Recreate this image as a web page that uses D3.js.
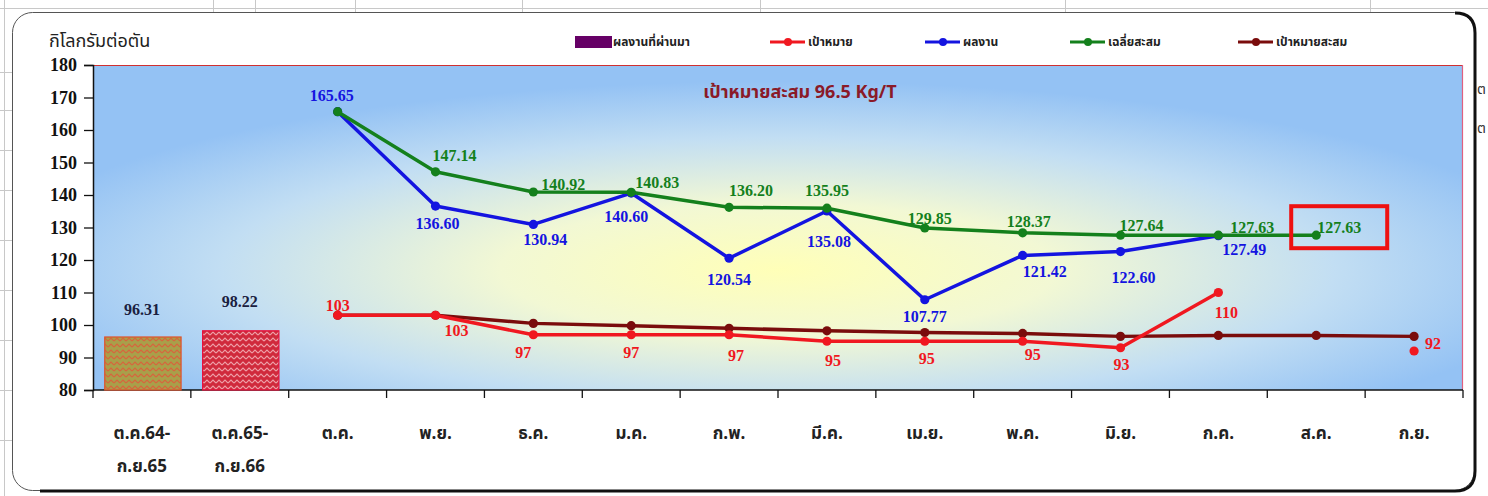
<!DOCTYPE html>
<html>
<head>
<meta charset="utf-8">
<script src="https://cdn.jsdelivr.net/npm/d3@7"></script>
<style>
  body { margin: 0; background: #fff; }
  svg { display: block; }
  .num { font-family: "Liberation Serif", "Times New Roman", serif; font-weight: bold; }
  .thai { font-family: "Noto Sans Thai", "Tahoma", "Noto Sans", "DejaVu Sans", sans-serif; }
</style>
</head>
<body>
<script>
// ช่วงปีที่ผ่านมา (แท่ง)
const pastCategories = ["ต.ค.64-|ก.ย.65", "ต.ค.65-|ก.ย.66"];
const pastValues = [96.31, 98.22];

// รายเดือน
const months = ["ต.ค.", "พ.ย.", "ธ.ค.", "ม.ค.", "ก.พ.", "มี.ค.", "เม.ย.", "พ.ค.", "มิ.ย.", "ก.ค.", "ส.ค.", "ก.ย."];
const target = [103, 103, 97, 97, 97, 95, 95, 95, 93, 110, null, 92];
const result = [165.65, 136.60, 130.94, 140.60, 120.54, 135.08, 107.77, 121.42, 122.60, 127.49, null, null];
const cumAverage = [165.65, 147.14, 140.92, 140.83, 136.20, 135.95, 129.85, 128.37, 127.64, 127.63, 127.63, null];
const cumTarget = [103, 103, 100.5, 99.8, 99.0, 98.2, 97.7, 97.4, 96.5, 96.8, 96.8, 96.5];

const yTicks = [80, 90, 100, 110, 120, 130, 140, 150, 160, 170, 180];

// ตำแหน่งป้ายตัวเลข (dx, dy จากจุด)
const targetLabelPos = [[0, -10], [21, 15], [-10, 18], [0, 18], [7, 21], [6, 19], [2, 17], [10, 13], [1, 17], [8, 20], null, [19, -8]];
const resultLabelPos = [[-6, -16], [2, 17], [12, 15], [-5, 23], [0, 21], [2, 30], [0, 17], [22, 16], [13, 26], [26, 14], null, null];
const avgLabelPos = [null, [19, -16], [30, -8], [26, -10], [22, -17], [0, -18], [5, -10], [6, -11], [21, -10], [34, -8], [23, -8], null];

const allCategories = pastCategories.concat(months);

const width = 1488;
const height = 496;
const plot = { l: 93, r: 1463, t: 65, b: 390 };

var svg = d3.select("body")
            .append("svg")
            .attr("width", width)
            .attr("height", height);

var defs = svg.append("defs");

var bg = defs.append("radialGradient")
             .attr("id", "bgGrad")
             .attr("cx", 0.5).attr("cy", 0.63).attr("r", 0.58)
             .attr("fx", 0.5).attr("fy", 0.63);
bg.append("stop").attr("offset", "0%").attr("stop-color", "#ffffb8");
bg.append("stop").attr("offset", "35%").attr("stop-color", "#f2f8d4");
bg.append("stop").attr("offset", "70%").attr("stop-color", "#c2def3");
bg.append("stop").attr("offset", "100%").attr("stop-color", "#94c2f4");

var pat1 = defs.append("pattern")
               .attr("id", "pat1")
               .attr("patternUnits", "userSpaceOnUse")
               .attr("width", 6).attr("height", 6);
pat1.append("rect").attr("width", 6).attr("height", 6).attr("fill", "#a8a04a");
pat1.append("path").attr("d", "M0,5 L3,2 L6,5").attr("fill", "none").attr("stroke", "#d8643c").attr("stroke-width", 1.2);

var pat2 = defs.append("pattern")
               .attr("id", "pat2")
               .attr("patternUnits", "userSpaceOnUse")
               .attr("width", 6).attr("height", 6);
pat2.append("rect").attr("width", 6).attr("height", 6).attr("fill", "#d02a3c");
pat2.append("path").attr("d", "M0,5 L3,2 L6,5").attr("fill", "none").attr("stroke", "#eea0a8").attr("stroke-width", 1.1);

// เส้นตารางของแผ่นงานด้านหลัง
var sheet = svg.append("g").attr("stroke", "#c8c8c8").attr("stroke-width", 1);
sheet.append("line").attr("x1", 0).attr("x2", width).attr("y1", 8.5).attr("y2", 8.5);
sheet.append("line").attr("x1", 4.5).attr("x2", 4.5).attr("y1", 0).attr("y2", height);
[213, 255, 355, 522, 760, 1065, 1370].forEach(function(x) {
  sheet.append("line").attr("x1", x + 0.5).attr("x2", x + 0.5).attr("y1", 0).attr("y2", 12);
});
[72, 110, 150, 190, 240, 290, 340, 390, 440].forEach(function(y) {
  sheet.append("line").attr("x1", 0).attr("x2", 12).attr("y1", y + 0.5).attr("y2", y + 0.5);
});

// กรอบแผนภูมิ
svg.append("rect")
   .attr("x", 12.5).attr("y", 12.5)
   .attr("width", 1462).attr("height", 478)
   .attr("rx", 20)
   .attr("fill", "#fff")
   .attr("stroke", "#555")
   .attr("stroke-width", 1);
svg.append("path")
   .attr("d", "M1455,13 Q1475,13 1475,33 L1475,471 Q1475,491 1455,491 L40,491")
   .attr("fill", "none")
   .attr("stroke", "#111")
   .attr("stroke-width", 3);

// พื้นที่กราฟ
svg.append("rect")
   .attr("x", plot.l).attr("y", plot.t)
   .attr("width", plot.r - plot.l).attr("height", plot.b - plot.t)
   .attr("fill", "url(#bgGrad)");
svg.append("line")
   .attr("x1", plot.l).attr("x2", plot.r).attr("y1", plot.t + 0.5).attr("y2", plot.t + 0.5)
   .attr("stroke", "#d03030").attr("stroke-width", 1.2);
svg.append("line")
   .attr("x1", plot.r - 0.5).attr("x2", plot.r - 0.5).attr("y1", plot.t).attr("y2", plot.b)
   .attr("stroke", "#e06080").attr("stroke-width", 1.2);

var xScale = d3.scaleBand()
               .domain(allCategories)
               .range([plot.l, plot.r]);

var yScale = d3.scaleLinear()
               .domain([80, 180])
               .range([plot.b, plot.t]);

function cx(m) { return xScale(m) + xScale.bandwidth() / 2; }

// แกน y
var yAxis = d3.axisLeft(yScale)
              .tickValues(yTicks)
              .tickSize(9)
              .tickPadding(7);
var gy = svg.append("g")
            .attr("transform", "translate(" + plot.l + ",0)")
            .call(yAxis);
gy.select(".domain").attr("stroke", "#111").attr("stroke-width", 1.5);
gy.selectAll(".tick line").attr("stroke", "#111").attr("stroke-width", 1.3);
gy.selectAll(".tick text")
  .attr("class", "num")
  .attr("font-size", 18)
  .attr("fill", "#111");

// แกน x
var gx = svg.append("g")
            .attr("transform", "translate(0," + plot.b + ")");
gx.append("line")
  .attr("x1", plot.l).attr("x2", plot.r)
  .attr("stroke", "#111").attr("stroke-width", 1.5);
gx.selectAll("line.tk")
  .data(d3.range(allCategories.length + 1))
  .enter()
  .append("line")
  .attr("class", "tk")
  .attr("x1", function(i) { return plot.l + i * xScale.step(); })
  .attr("x2", function(i) { return plot.l + i * xScale.step(); })
  .attr("y1", 0).attr("y2", 8)
  .attr("stroke", "#111").attr("stroke-width", 1.3);

var xLabels = gx.selectAll("text.xl")
                .data(allCategories)
                .enter()
                .append("text")
                .attr("class", "xl thai")
                .attr("text-anchor", "middle")
                .attr("font-size", 17)
                .attr("font-weight", "bold")
                .attr("fill", "#222");
xLabels.each(function(d) {
  var parts = d.split("|");
  var t = d3.select(this);
  parts.forEach(function(p, i) {
    t.append("tspan")
     .attr("x", cx(d))
     .attr("y", 49 + i * 33)
     .text(p);
  });
});

// แท่งผลงานที่ผ่านมา
svg.selectAll("rect.bar")
   .data(pastValues)
   .enter()
   .append("rect")
   .attr("class", "bar")
   .attr("x", function(d, i) { return xScale(pastCategories[i]) + xScale.bandwidth() * 0.12; })
   .attr("width", xScale.bandwidth() * 0.78)
   .attr("y", function(d) { return yScale(d); })
   .attr("height", function(d) { return plot.b - yScale(d); })
   .attr("fill", function(d, i) { return i === 0 ? "url(#pat1)" : "url(#pat2)"; })
   .attr("stroke", function(d, i) { return i === 0 ? "#e0502c" : "#e8103c"; })
   .attr("stroke-width", 1.2);

svg.selectAll("text.barlbl")
   .data(pastValues)
   .enter()
   .append("text")
   .attr("class", "barlbl num")
   .attr("x", function(d, i) { return cx(pastCategories[i]); })
   .attr("y", function(d, i) { return yScale(d) - (i === 0 ? 22 : 24); })
   .attr("text-anchor", "middle")
   .attr("font-size", 16)
   .attr("fill", "#1a2040")
   .text(function(d) { return d.toFixed(2); });

// เส้นข้อมูล
function drawSeries(values, color, labelPos, fmt) {
  var pts = values.map(function(v, i) { return { m: months[i], v: v, i: i }; });
  var line = d3.line()
               .defined(function(d) { return d.v !== null; })
               .x(function(d) { return cx(d.m); })
               .y(function(d) { return yScale(d.v); });
  svg.append("path")
     .datum(pts)
     .attr("d", line)
     .attr("fill", "none")
     .attr("stroke", color)
     .attr("stroke-width", 3.5)
     .attr("stroke-linejoin", "round");
  svg.append("g")
     .selectAll("circle")
     .data(pts.filter(function(d) { return d.v !== null; }))
     .enter()
     .append("circle")
     .attr("cx", function(d) { return cx(d.m); })
     .attr("cy", function(d) { return yScale(d.v); })
     .attr("r", 4.6)
     .attr("fill", color);
  if (!labelPos) return;
  svg.append("g")
     .selectAll("text")
     .data(pts.filter(function(d) { return d.v !== null && labelPos[d.i]; }))
     .enter()
     .append("text")
     .attr("class", "num")
     .attr("x", function(d) { return cx(d.m) + labelPos[d.i][0]; })
     .attr("y", function(d) { return yScale(d.v) + labelPos[d.i][1]; })
     .attr("dy", "0.35em")
     .attr("text-anchor", "middle")
     .attr("font-size", 16)
     .attr("fill", color)
     .text(function(d) { return fmt(d.v); });
}

drawSeries(cumTarget, "#7a0c0c", null, null);
drawSeries(target, "#f01820", targetLabelPos, function(v) { return v; });
drawSeries(result, "#1414e0", resultLabelPos, function(v) { return v.toFixed(2); });
drawSeries(cumAverage, "#14801c", avgLabelPos, function(v) { return v.toFixed(2); });

// กรอบแดงเน้นค่าเฉลี่ยสะสมล่าสุด
var lastIdx = 10;
svg.append("rect")
   .attr("x", cx(months[lastIdx]) + avgLabelPos[lastIdx][0] - 48)
   .attr("y", yScale(cumAverage[lastIdx]) + avgLabelPos[lastIdx][1] - 21)
   .attr("width", 96)
   .attr("height", 42)
   .attr("fill", "none")
   .attr("stroke", "#ee1111")
   .attr("stroke-width", 4);

// ชื่อกราฟ
svg.append("text")
   .attr("class", "thai")
   .attr("x", 800).attr("y", 92)
   .attr("dy", "0.35em")
   .attr("text-anchor", "middle")
   .attr("font-size", 18)
   .attr("font-weight", "bold")
   .attr("fill", "#8a1a28")
   .text("เป้าหมายสะสม 96.5 Kg/T");

svg.append("text")
   .attr("class", "thai")
   .attr("x", 49).attr("y", 47)
   .attr("font-size", 18)
   .attr("fill", "#222")
   .text("กิโลกรัมต่อตัน");

// คำอธิบายสัญลักษณ์
var legendItems = [
  { name: "ผลงานที่ผ่านมา", color: "#660066", type: "rect", x: 575 },
  { name: "เป้าหมาย", color: "#f01820", type: "line", x: 770 },
  { name: "ผลงาน", color: "#1414e0", type: "line", x: 925 },
  { name: "เฉลี่ยสะสม", color: "#14801c", type: "line", x: 1070 },
  { name: "เป้าหมายสะสม", color: "#7a0c0c", type: "line", x: 1238 }
];
var legend = svg.append("g").attr("transform", "translate(0,42)");
legendItems.forEach(function(it) {
  if (it.type === "rect") {
    legend.append("rect").attr("x", it.x).attr("y", -6).attr("width", 37).attr("height", 12).attr("fill", it.color);
  } else {
    legend.append("line").attr("x1", it.x).attr("x2", it.x + 35).attr("stroke", it.color).attr("stroke-width", 3);
    legend.append("circle").attr("cx", it.x + 18).attr("r", 4).attr("fill", it.color);
  }
  legend.append("text")
        .attr("class", "thai")
        .attr("x", it.x + 38)
        .attr("dy", "0.35em")
        .attr("font-size", 12)
        .attr("font-weight", "bold")
        .attr("fill", "#222")
        .text(it.name);
});

// ตัวอักษรที่ถูกตัดขอบขวา
["ต", "ต"].forEach(function(s, i) {
  svg.append("text")
     .attr("class", "thai")
     .attr("x", 1477).attr("y", 94 + i * 39)
     .attr("font-size", 14)
     .attr("fill", "#333")
     .text(s);
});
</script>
</body>
</html>
